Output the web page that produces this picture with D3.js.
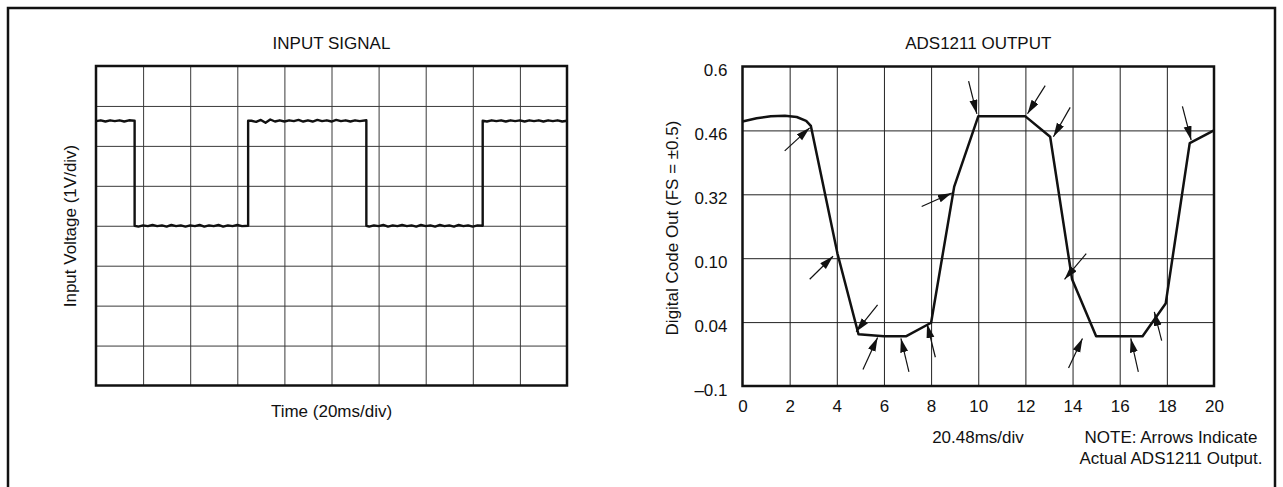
<!DOCTYPE html>
<html>
<head>
<meta charset="utf-8">
<script src="https://cdn.jsdelivr.net/npm/d3@7"></script>
<style>
  body { margin: 0; background: #fff; }
  text { font-family: "Liberation Sans", Arial, sans-serif; fill: #111; }
</style>
</head>
<body>
<svg id="chart" width="1283" height="487"></svg>
<script>
// ---- data ----
// input square wave, [time div, volts div] (10 x 8 divisions)
var inputSignal = [
  [0,6.62],[0.1,6.64],[0.2,6.61],[0.3,6.64],[0.4,6.62],[0.5,6.64],[0.6,6.61],[0.7,6.64],[0.82,6.63],
  [0.82,4.0],[0.9,3.98],[1.0,4.01],[1.1,3.99],[1.2,4.02],[1.3,3.99],[1.4,4.01],[1.5,3.98],[1.6,4.02],
  [1.7,3.99],[1.8,4.01],[1.9,3.98],[2.0,4.01],[2.1,3.99],[2.2,4.02],[2.3,3.98],[2.4,4.01],[2.5,3.99],
  [2.6,4.02],[2.7,3.98],[2.8,4.01],[2.9,3.99],[3.0,4.02],[3.1,3.99],[3.23,4.0],
  [3.23,6.63],[3.3,6.63],[3.4,6.6],[3.5,6.65],[3.6,6.58],[3.7,6.66],[3.8,6.61],[3.9,6.64],[4.0,6.61],
  [4.1,6.64],[4.2,6.62],[4.3,6.65],[4.4,6.61],[4.5,6.64],[4.6,6.61],[4.7,6.65],[4.8,6.62],[4.9,6.64],
  [5.0,6.61],[5.1,6.65],[5.2,6.62],[5.3,6.64],[5.4,6.61],[5.5,6.64],[5.6,6.62],[5.74,6.64],
  [5.74,4.0],[5.8,3.98],[5.9,4.01],[6.0,3.99],[6.1,4.02],[6.2,3.98],[6.3,4.01],[6.4,3.99],[6.5,4.02],
  [6.6,3.99],[6.7,4.01],[6.8,3.98],[6.9,4.02],[7.0,3.99],[7.1,4.01],[7.2,3.98],[7.3,4.02],[7.4,3.99],
  [7.5,4.01],[7.6,3.98],[7.7,4.02],[7.8,3.99],[7.9,4.01],[8.0,3.98],[8.1,4.01],[8.21,4.0],
  [8.21,6.63],[8.3,6.61],[8.4,6.64],[8.5,6.62],[8.6,6.64],[8.7,6.61],[8.8,6.64],[8.9,6.62],[9.0,6.64],
  [9.1,6.61],[9.2,6.64],[9.3,6.62],[9.4,6.64],[9.5,6.61],[9.6,6.64],[9.7,6.62],[9.8,6.64],[9.9,6.61],[10,6.63]
];

// ADS1211 output, x in time units, y in row index of the code labels
var outputTime = [0, 0.6, 1.2, 1.8, 2.3, 2.7, 2.9, 4.03, 4.92, 6, 6.95, 8, 8.98, 10, 12, 13.05, 13.98, 15, 16.97, 17.95, 18.97, 20];
var outputCode = [4.14, 4.19, 4.22, 4.23, 4.21, 4.15, 4.07, 2.07, 0.81, 0.78, 0.78, 0.99, 3.12, 4.22, 4.22, 3.9, 1.67, 0.78, 0.78, 1.29, 3.8, 4.0];

var codeLabels = ["\u20130.1", "0.04", "0.10", "0.32", "0.46", "0.6"];
var timeTicks = [0, 2, 4, 6, 8, 10, 12, 14, 16, 18, 20];

// arrows: tail and head, same units as the output curve
var arrows = [
  [1.79, 3.68, 2.85, 4.04],
  [2.85, 1.67, 3.84, 2.03],
  [5.73, 1.27, 4.82, 0.85],
  [5.11, 0.26, 5.73, 0.76],
  [7.06, 0.22, 6.72, 0.745],
  [8.18, 0.45, 7.83, 0.97],
  [7.6, 2.81, 8.88, 3.02],
  [9.59, 4.77, 9.94, 4.26],
  [12.84, 4.70, 12.09, 4.26],
  [13.9, 4.36, 13.19, 3.9],
  [18.66, 4.375, 19.03, 3.85],
  [14.58, 2.07, 13.66, 1.67],
  [13.83, 0.28, 14.42, 0.745],
  [16.79, 0.22, 16.47, 0.745],
  [17.78, 0.71, 17.47, 1.16]
];

var fontSize = "17px";
var svg = d3.select("#chart");

// outer frame (bottom runs off the page)
svg.append("rect")
  .attr("x", 8).attr("y", 8)
  .attr("width", 1267).attr("height", 600)
  .style("fill", "none")
  .style("stroke", "#111")
  .style("stroke-width", 2.5);

svg.append("defs").append("marker")
  .attr("id", "head")
  .attr("markerUnits", "userSpaceOnUse")
  .attr("markerWidth", 15).attr("markerHeight", 9)
  .attr("refX", 14).attr("refY", 4)
  .attr("orient", "auto")
  .append("path")
  .attr("d", "M0,0 L14,4 L0,8 Z")
  .style("fill", "#111");

// ---------- left: input signal ----------
var xIn = d3.scaleLinear().domain([0, 10]).range([96, 567]);
var yIn = d3.scaleLinear().domain([0, 8]).range([385.5, 66]);

var left = svg.append("g");

left.append("g")
  .attr("transform", "translate(0," + yIn(0) + ")")
  .call(d3.axisBottom(xIn).tickValues(d3.range(1, 10)).tickSize(yIn(0) - yIn(8)).tickFormat(""))
  .call(g => g.select(".domain").remove())
  .call(g => g.selectAll("line").attr("transform", "translate(0," + (yIn(8) - yIn(0)) + ")").style("stroke", "#3a3a3a"));

left.append("g")
  .attr("transform", "translate(" + xIn(0) + ",0)")
  .call(d3.axisLeft(yIn).tickValues(d3.range(1, 8)).tickSize(-(xIn(10) - xIn(0))).tickFormat(""))
  .call(g => g.select(".domain").remove())
  .call(g => g.selectAll("line").style("stroke", "#3a3a3a"));

left.append("rect")
  .attr("x", xIn(0)).attr("y", yIn(8))
  .attr("width", xIn(10) - xIn(0)).attr("height", yIn(0) - yIn(8))
  .style("fill", "none").style("stroke", "#111").style("stroke-width", 2.5);

left.append("path")
  .datum(inputSignal)
  .attr("d", d3.line().x(d => xIn(d[0])).y(d => yIn(d[1])))
  .style("fill", "none").style("stroke", "#111").style("stroke-width", 2.4)
  .style("stroke-linejoin", "round");

left.append("text")
  .attr("x", (xIn(0) + xIn(10)) / 2).attr("y", 43)
  .attr("dy", "0.35em").attr("text-anchor", "middle")
  .style("font-size", fontSize).text("INPUT SIGNAL");

left.append("text")
  .attr("x", (xIn(0) + xIn(10)) / 2).attr("y", 411)
  .attr("dy", "0.35em").attr("text-anchor", "middle")
  .style("font-size", fontSize).text("Time (20ms/div)");

left.append("text")
  .attr("transform", "translate(70,226) rotate(-90)")
  .attr("dy", "0.35em").attr("text-anchor", "middle")
  .style("font-size", fontSize).text("Input Voltage (1V/div)");

// ---------- right: ADS1211 output ----------
var xOut = d3.scaleLinear().domain([0, 20]).range([742.5, 1214]);
var yOut = d3.scaleLinear().domain([0, 5]).range([386, 66.5]);

var right = svg.append("g");

right.append("g")
  .attr("transform", "translate(0," + yOut(0) + ")")
  .call(d3.axisBottom(xOut).tickValues(timeTicks.slice(1, -1)).tickSize(-(yOut(0) - yOut(5))).tickFormat(""))
  .call(g => g.select(".domain").remove())
  .call(g => g.selectAll("line").style("stroke", "#222"));

right.append("g")
  .attr("transform", "translate(" + xOut(0) + ",0)")
  .call(d3.axisLeft(yOut).tickValues([1, 2, 3, 4]).tickSize(-(xOut(20) - xOut(0))).tickFormat(""))
  .call(g => g.select(".domain").remove())
  .call(g => g.selectAll("line").style("stroke", "#222"));

right.append("rect")
  .attr("x", xOut(0)).attr("y", yOut(5))
  .attr("width", xOut(20) - xOut(0)).attr("height", yOut(0) - yOut(5))
  .style("fill", "none").style("stroke", "#111").style("stroke-width", 2.5);

// tick labels
right.append("g")
  .attr("transform", "translate(" + xOut(0) + ",0)")
  .call(d3.axisLeft(yOut).tickValues(d3.range(6)).tickSize(0).tickPadding(15).tickFormat(i => codeLabels[i]))
  .call(g => g.select(".domain").remove())
  .call(g => g.selectAll("text").attr("dy", "0.55em").style("font-size", fontSize).style("font-family", "Liberation Sans, Arial, sans-serif"));

right.append("g")
  .attr("transform", "translate(0," + yOut(0) + ")")
  .call(d3.axisBottom(xOut).tickValues(timeTicks).tickSize(0).tickPadding(14))
  .call(g => g.select(".domain").remove())
  .call(g => g.selectAll("text").style("font-size", fontSize).style("font-family", "Liberation Sans, Arial, sans-serif"));

var outPts = d3.zip(outputTime, outputCode);
right.append("path")
  .datum(outPts)
  .attr("d", d3.line().x(d => xOut(d[0])).y(d => yOut(d[1])))
  .style("fill", "none").style("stroke", "#111").style("stroke-width", 2.5)
  .style("stroke-linejoin", "round");

right.selectAll(".arrow")
  .data(arrows)
  .enter().append("line")
  .attr("class", "arrow")
  .attr("x1", d => xOut(d[0])).attr("y1", d => yOut(d[1]))
  .attr("x2", d => xOut(d[2])).attr("y2", d => yOut(d[3]))
  .style("stroke", "#111").style("stroke-width", 1.2)
  .attr("marker-end", "url(#head)");

right.append("text")
  .attr("x", (xOut(0) + xOut(20)) / 2).attr("y", 43)
  .attr("dy", "0.35em").attr("text-anchor", "middle")
  .style("font-size", fontSize).text("ADS1211 OUTPUT");

right.append("text")
  .attr("transform", "translate(672,228) rotate(-90)")
  .attr("dy", "0.35em").attr("text-anchor", "middle")
  .style("font-size", fontSize).text("Digital Code Out (FS = \u00b10.5)");

right.append("text")
  .attr("x", 978).attr("y", 437)
  .attr("dy", "0.35em").attr("text-anchor", "middle")
  .style("font-size", fontSize).text("20.48ms/div");

right.append("text")
  .attr("x", 1171).attr("y", 437)
  .attr("dy", "0.35em").attr("text-anchor", "middle")
  .style("font-size", fontSize).text("NOTE: Arrows Indicate");

right.append("text")
  .attr("x", 1171).attr("y", 458)
  .attr("dy", "0.35em").attr("text-anchor", "middle")
  .style("font-size", fontSize).text("Actual ADS1211 Output.");
</script>
</body>
</html>
